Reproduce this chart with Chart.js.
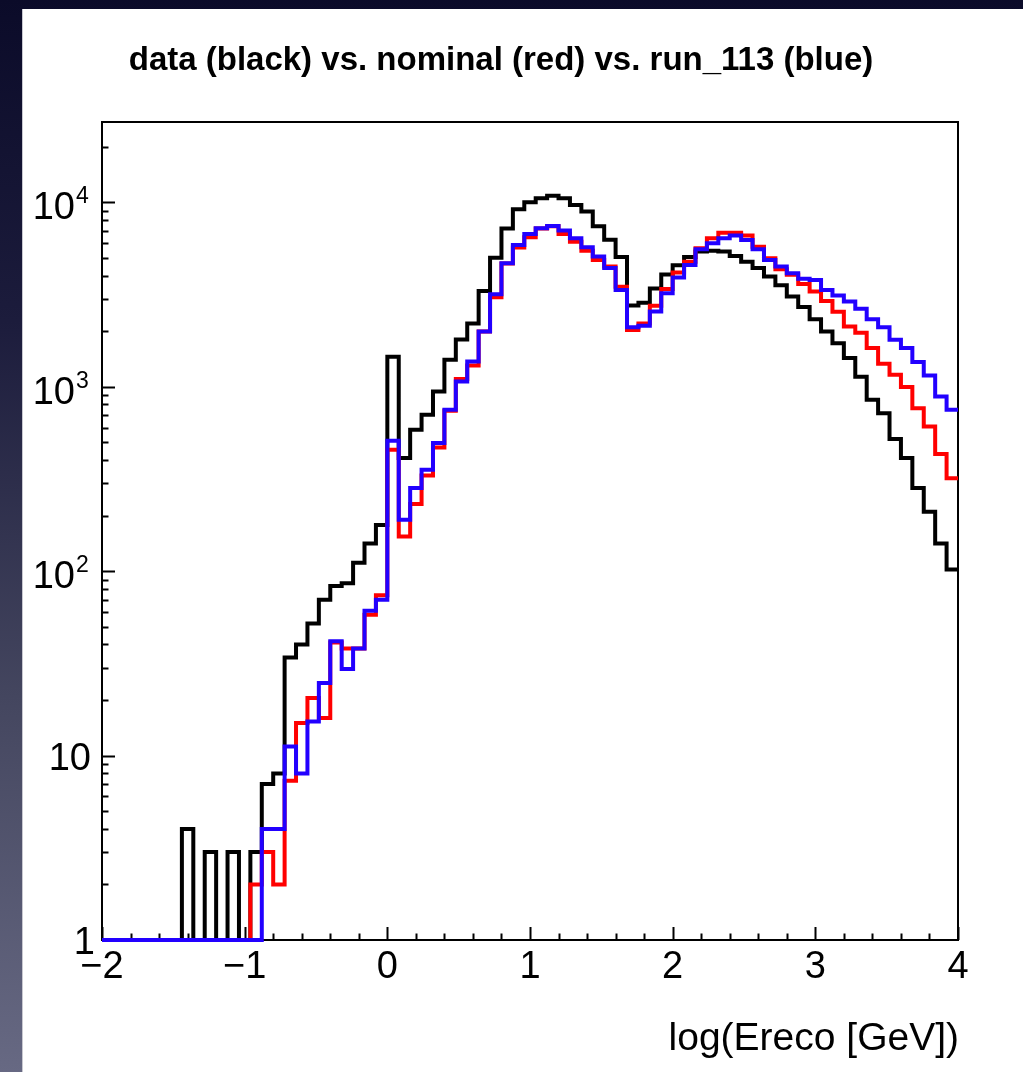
<!DOCTYPE html>
<html>
<head>
<meta charset="utf-8">
<script src="https://cdn.jsdelivr.net/npm/chart.js@4.4.1/dist/chart.umd.min.js"></script>
<style>
  html, body { margin: 0; padding: 0; }
  body {
    width: 1023px; height: 1072px; overflow: hidden; position: relative;
    background: linear-gradient(to bottom, #0b0b29 0%, #1c1c3c 30%, #44465f 65%, #676983 100%);
  }
  #panel {
    position: absolute; left: 22px; top: 9px; width: 1001px; height: 1063px;
    background: #fff; border-left: 1px solid #c8c8d0; box-sizing: border-box;
  }
  canvas { display: block; }
</style>
</head>
<body>
<div id="panel"><canvas id="histCanvas" width="1001" height="1063"></canvas></div>
<script>
// histogram binning: 75 bins of 0.08 from -2 to 4
const X_MIN = -2;
const X_MAX = 4;
const BIN_WIDTH = 0.08;
const Y_MIN = 1;
const Y_MAX = 27200;

// bin contents (0 = empty bin)
const dataCounts = [
  0, 0, 0, 0, 0, 0, 0, 4, 0, 3,
  0, 3, 0, 3, 7, 8, 34, 40, 52, 70,
  83, 86, 111, 141, 178, 1450, 410, 583, 703, 940,
  1400, 1800, 2200, 3300, 5000, 7200, 9150, 10000, 10500, 10850,
  10500, 9650, 8900, 7400, 6250, 5050, 2750, 2850, 3400, 4050,
  4550, 5050, 5400, 5450, 5400, 5100, 4750, 4400, 3950, 3550,
  3080, 2700, 2320, 1990, 1720, 1430, 1130, 848, 718, 520,
  410, 282, 210, 141, 102
];
const nominalCounts = [
  0, 0, 0, 0, 0, 0, 0, 0, 0, 0,
  0, 0, 0, 2, 3, 2, 7.3, 15, 20.5, 16,
  41, 38, 38, 58, 74, 455, 154, 231, 330, 468,
  740, 1100, 1300, 1990, 3050, 4650, 5670, 6450, 7200, 7400,
  6730, 6100, 5450, 4860, 4480, 3480, 2030, 2200, 2740, 3380,
  4150, 4760, 5630, 6370, 6830, 6830, 6590, 5740, 4970, 4330,
  4035, 3600, 3275, 2915, 2550, 2120, 1960, 1620, 1330, 1160,
  994, 764, 608, 431, 319
];
const run113Counts = [
  0, 0, 0, 0, 0, 0, 0, 0, 0, 0,
  0, 0, 0, 0, 4, 4, 11.2, 8, 15.3, 24.7,
  41.6, 29.5, 38, 61, 70, 509, 190, 282, 354, 494,
  750, 1066, 1367, 1990, 3170, 4670, 5860, 6730, 7230, 7430,
  7010, 6370, 5700, 5070, 4390, 3345, 2100, 2135, 2553, 3210,
  3900, 4570, 5560, 5990, 6370, 6590, 6240, 5560, 4860, 4480,
  4120, 3850, 3780, 3345, 3116, 2890, 2640, 2320, 2100, 1794,
  1617, 1358, 1148, 884, 749
];

const yTickValues = [1, 10, 100, 1000, 10000];
const yTickBase = ['1', '10', '10', '10', '10'];
const yTickExp = ['', '', '2', '3', '4'];
const xTickValues = [-2, -1, 0, 1, 2, 3, 4];
const xTickLabels = ['\u22122', '\u22121', '0', '1', '2', '3', '4'];

const TITLE = 'data (black) vs. nominal (red) vs. run_113 (blue)';
const X_TITLE = 'log(Ereco [GeV])';
const FONT = '"Liberation Sans", Arial, Helvetica, sans-serif';

// one point per bin left edge, plus the right edge of the last bin
function toSteps(counts) {
  const pts = counts.map((v, i) => ({ x: X_MIN + i * BIN_WIDTH, y: Math.max(v, Y_MIN) }));
  pts.push({ x: X_MAX, y: Math.max(counts[counts.length - 1], Y_MIN) });
  return pts;
}

function histDataset(label, counts, color, order) {
  return {
    label: label,
    data: toSteps(counts),
    borderColor: color,
    borderWidth: 4,
    stepped: 'before',
    pointRadius: 0,
    fill: false,
    tension: 0,
    borderJoinStyle: 'miter',
    borderCapStyle: 'butt',
    clip: 4,
    order: order
  };
}

// ROOT style frame, inward ticks and labels
const rootAxes = {
  id: 'rootAxes',
  beforeDatasetsDraw(chart) {
    const { ctx, chartArea: a, scales: { x, y } } = chart;
    ctx.save();
    ctx.strokeStyle = '#000';
    ctx.lineWidth = 2;
    ctx.strokeRect(a.left, a.top, a.right - a.left, a.bottom - a.top);

    ctx.beginPath();
    for (let d = 0; d <= 4; d++) {
      for (let m = 1; m <= 9; m++) {
        const v = m * Math.pow(10, d);
        if (v > Y_MAX) break;
        const py = Math.round(y.getPixelForValue(v)) + 0.5;
        const len = m === 1 ? 13 : 6.5;
        ctx.moveTo(a.left, py);
        ctx.lineTo(a.left + len, py);
      }
    }
    for (let j = 0; j <= 30; j++) {
      const t = X_MIN + j * 0.2;
      const px = Math.round(x.getPixelForValue(t)) + 0.5;
      const len = j % 5 === 0 ? 13 : 6.5;
      ctx.moveTo(px, a.bottom);
      ctx.lineTo(px, a.bottom - len);
    }
    ctx.stroke();
    ctx.restore();
  },
  afterDraw(chart) {
    const { ctx, chartArea: a, scales: { x, y } } = chart;
    ctx.save();
    ctx.fillStyle = '#000';

    // title
    ctx.font = 'bold 33px ' + FONT;
    ctx.textAlign = 'center';
    ctx.textBaseline = 'alphabetic';
    ctx.fillText(TITLE, 478, 61);

    // y labels
    yTickValues.forEach((v, i) => {
      const py = y.getPixelForValue(v);
      if (yTickExp[i]) {
        ctx.font = '38px ' + FONT;
        ctx.textAlign = 'right';
        ctx.fillText(yTickBase[i], 52, py + 17);
        ctx.font = '23px ' + FONT;
        ctx.textAlign = 'left';
        ctx.fillText(yTickExp[i], 53, py + 1);
      } else {
        ctx.font = '38px ' + FONT;
        ctx.textAlign = 'right';
        ctx.fillText(yTickBase[i], i === 0 ? 72 : 68, py + 14);
      }
    });

    // x labels
    ctx.font = '38px ' + FONT;
    ctx.textAlign = 'center';
    xTickValues.forEach((v, i) => {
      ctx.fillText(xTickLabels[i], x.getPixelForValue(v), a.bottom + 38);
    });

    // x axis title
    ctx.font = '39px ' + FONT;
    ctx.textAlign = 'right';
    ctx.fillText(X_TITLE, a.right + 1, 1041);
    ctx.restore();
  }
};

new Chart(document.getElementById('histCanvas'), {
  type: 'line',
  data: {
    datasets: [
      histDataset('data', dataCounts, '#000000', 3),
      histDataset('nominal', nominalCounts, '#ff0000', 2),
      histDataset('run_113', run113Counts, '#2200ff', 1)
    ]
  },
  options: {
    responsive: false,
    animation: false,
    layout: { padding: { left: 79, right: 66, top: 113, bottom: 132 } },
    scales: {
      x: { type: 'linear', min: X_MIN, max: X_MAX, display: false },
      y: { type: 'logarithmic', min: Y_MIN, max: Y_MAX, display: false }
    },
    plugins: {
      legend: { display: false },
      tooltip: { enabled: false },
      title: { display: false }
    }
  },
  plugins: [rootAxes]
});
</script>
</body>
</html>
